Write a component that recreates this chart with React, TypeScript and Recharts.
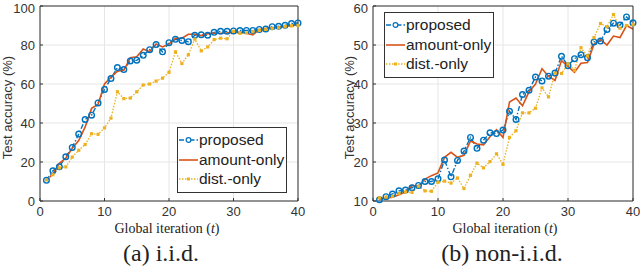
import React from 'react';
import { LineChart, Line, XAxis, YAxis, CartesianGrid, Legend } from 'recharts';

// global iterations on the x axis
const iterations = [
  1, 2, 3, 4, 5, 6, 7, 8, 9, 10, 11, 12, 13, 14, 15, 16, 17, 18, 19, 20,
  21, 22, 23, 24, 25, 26, 27, 28, 29, 30, 31, 32, 33, 34, 35, 36, 37, 38, 39, 40
];

// (a) i.i.d.
const iidProposed = [
  10.6, 15.5, 17.6, 22.7, 27.5, 34.3, 41.8, 44, 50.3, 57.2,
  62.8, 68.4, 67.4, 71.8, 72.2, 74.7, 77.6, 80.2, 76.5, 81.2,
  82.9, 82.3, 81.7, 85, 85.2, 85, 86.5, 87, 87, 87.2,
  87.4, 87.5, 87.5, 88, 88.2, 89.4, 89.6, 90.1, 91, 91.3
];
const iidAmountOnly = [
  10.5, 14, 19.3, 22, 27, 31, 38, 47.5, 49.5, 60,
  63.5, 66.5, 67, 73.5, 74, 78, 76.5, 80.5, 79, 80.5,
  83.5, 83.5, 85.5, 85.5, 84.8, 85.8, 86, 86, 86.2, 86.5,
  86.5, 86, 85.2, 88, 88.5, 88.8, 89.2, 89.6, 90, 90.5
];
const iidDistOnly = [
  10.8, 13.5, 17, 17.5, 22.5, 26, 29, 34.5, 34.2, 37.5,
  42.5, 56, 52.5, 52.8, 56, 59.5, 60, 61.5, 63, 66,
  76.5, 70.5, 75, 83, 77, 79, 82.8, 83.5, 83.2, 87,
  86, 86.2, 86.8, 87.5, 88, 88.5, 88.8, 89.5, 89.8, 90
];

// (b) non-i.i.d.
const nonIidProposed = [
  10.3, 11.1, 11.8, 12.6, 12.8, 13.4, 14, 15, 15, 15.7,
  20.5, 16.2, 20.4, 22.8, 26.3, 23.5, 25.6, 27.5, 27.3, 28.2,
  33, 30.9, 37.3, 38.4, 41.8, 40.8, 42, 42.8, 47.1, 44.7,
  46.5, 47.5, 46.7, 50.8, 51, 54, 55.6, 55.1, 57.2, 55.7
];
const nonIidAmountOnly = [
  10.5, 10.7, 11, 11.6, 12.3, 14, 13.7, 15.6, 16.5, 17.2,
  21.2, 22.5, 21.2, 21.7, 25.4, 24.6, 24.4, 26.5, 28.3, 26.3,
  35.4, 36.4, 34.4, 38, 40, 43.9, 42, 40.9, 46, 44.5,
  43, 45.3, 45.5, 50.2, 51.4, 50, 52.3, 51.9, 55, 54.1
];
const nonIidDistOnly = [
  10.8, 11, 11.2, 11.9, 12.3, 12.2, 13.8, 12.6, 12.5, 14.8,
  15.1, 14.6, 15.9, 13.2, 16.6, 19.7, 18.5, 20.1, 22.1, 19.4,
  26.3, 28, 32.6, 32.6, 33.8, 39, 36.7, 42.8, 42.7, 45.2,
  43.5, 49.3, 47.2, 51.9, 55.5, 54.7, 57.8, 54.3, 55, 55.2
];

const xTicks = [0, 10, 20, 30, 40];
const iidTicks = [0, 20, 40, 60, 80, 100];
const nonIidTicks = [10, 20, 30, 40, 50, 60];

const seriesNames = ['proposed', 'amount-only', 'dist.-only'];

const BLUE = '#0072BD';
const RED = '#D95319';
const YELLOW = '#EDB120';
const AXIS = '#333333';
const SANS = '"Liberation Sans", Arial, Helvetica, sans-serif';
const SERIF = '"Liberation Serif", "Times New Roman", serif';

const buildRows = (a: number[], b: number[], c: number[]) =>
  iterations.map((t, i) => ({ t, proposed: a[i], amount: b[i], dist: c[i] }));

const circleDot = (props: any) => (
  <circle
    key={`c-${props.index}`}
    cx={props.cx}
    cy={props.cy}
    r={2.8}
    fill="none"
    stroke={BLUE}
    strokeWidth={1.4}
  />
);

const squareDot = (props: any) => (
  <rect
    key={`s-${props.index}`}
    x={props.cx - 1.6}
    y={props.cy - 1.6}
    width={3.2}
    height={3.2}
    fill={YELLOW}
  />
);

const LegendBox = () => (
  <div
    style={{
      width: 108,
      height: 62,
      border: `1px solid ${AXIS}`,
      background: '#fff',
      fontFamily: SANS,
      fontSize: 15.5,
      color: '#222',
      paddingTop: 2
    }}
  >
    {seriesNames.map((name, i) => (
      <div key={name} style={{ display: 'flex', alignItems: 'center', height: 19.8 }}>
        <svg width={21} height={10} style={{ flex: 'none' }}>
          {i === 0 && (
            <>
              <line x1={1} y1={5} x2={20} y2={5} stroke={BLUE} strokeWidth={1.4} strokeDasharray="5 2 1.5 2" />
              <circle cx={10.5} cy={5} r={2.4} fill="#fff" stroke={BLUE} strokeWidth={1.2} />
            </>
          )}
          {i === 1 && <line x1={1} y1={5} x2={20} y2={5} stroke={RED} strokeWidth={1.6} />}
          {i === 2 && (
            <>
              <line x1={1} y1={5} x2={20} y2={5} stroke={YELLOW} strokeWidth={1.3} strokeDasharray="1.5 1.5" />
              <rect x={9} y={3.5} width={3} height={3} fill={YELLOW} />
            </>
          )}
        </svg>
        <span style={{ lineHeight: '16px' }}>{name}</span>
      </div>
    ))}
  </div>
);

interface PanelProps {
  data: any[];
  yDomain: [number, number];
  yTicks: number[];
  yAxisWidth: number;
  rightMargin: number;
  yLabelX: number;
  legendPos: { left: number; top: number };
  caption: string;
  labelShift: number;
  captionShift: number;
}

const Panel: React.FC<PanelProps> = ({
  data,
  yDomain,
  yTicks,
  yAxisWidth,
  rightMargin,
  yLabelX,
  legendPos,
  caption,
  labelShift,
  captionShift
}) => {
  const tickStyle = { fontSize: 13, fill: AXIS, fontFamily: SANS };

  const xLabel = (p: any) => {
    const vb = p.viewBox;
    const cx = vb.x + vb.width / 2;
    return (
      <g fontFamily={SERIF} fill="#222">
        <text x={cx + labelShift} y={vb.y + 32} textAnchor="middle" fontSize={14}>
          Global iteration (<tspan fontStyle="italic">t</tspan>)
        </text>
        <text x={cx + captionShift} y={vb.y + 60} textAnchor="middle" fontSize={24}>
          {caption}
        </text>
      </g>
    );
  };

  const yLabel = (p: any) => {
    const vb = p.viewBox;
    const cy = vb.y + vb.height / 2 + 4;
    return (
      <text
        x={yLabelX}
        y={cy}
        transform={`rotate(-90 ${yLabelX} ${cy})`}
        textAnchor="middle"
        dominantBaseline="central"
        fontSize={13}
        fontFamily={SANS}
        fill={AXIS}
      >
        Test accuracy (%)
      </text>
    );
  };

  return (
    <LineChart
      width={320}
      height={269}
      data={data}
      margin={{ top: 5, right: rightMargin, bottom: 0, left: 0 }}
    >
      <CartesianGrid stroke="#e6e6e6" strokeWidth={1} />
      <XAxis
        dataKey="t"
        type="number"
        domain={[0, 40]}
        ticks={xTicks}
        height={68}
        tick={tickStyle}
        tickSize={-3}
        tickMargin={9}
        stroke={AXIS}
        tickLine={{ stroke: AXIS }}
        axisLine={{ stroke: AXIS }}
        label={{ content: xLabel }}
      />
      <XAxis
        xAxisId="top"
        orientation="top"
        type="number"
        domain={[0, 40]}
        ticks={xTicks}
        height={1}
        tick={false}
        tickSize={-3}
        stroke={AXIS}
      />
      <YAxis
        type="number"
        domain={yDomain}
        ticks={yTicks}
        width={yAxisWidth}
        tick={tickStyle}
        tickSize={-3}
        tickMargin={8}
        stroke={AXIS}
        label={{ content: yLabel }}
      />
      <YAxis
        yAxisId="right"
        orientation="right"
        type="number"
        domain={yDomain}
        ticks={yTicks}
        width={1}
        tick={false}
        tickSize={-3}
        stroke={AXIS}
      />
      <Legend
        layout="horizontal"
        verticalAlign="middle"
        align="center"
        content={() => <LegendBox />}
        wrapperStyle={{ position: 'absolute', left: legendPos.left, top: legendPos.top, width: 'auto' }}
      />
      <Line
        name="proposed"
        dataKey="proposed"
        stroke={BLUE}
        strokeWidth={1.4}
        strokeDasharray="5 2 1.5 2"
        dot={circleDot}
        isAnimationActive={false}
      />
      <Line
        name="amount-only"
        dataKey="amount"
        stroke={RED}
        strokeWidth={1.6}
        dot={false}
        isAnimationActive={false}
      />
      <Line
        name="dist.-only"
        dataKey="dist"
        stroke={YELLOW}
        strokeWidth={1.3}
        strokeDasharray="1.5 1.5"
        dot={squareDot}
        isAnimationActive={false}
      />
    </LineChart>
  );
};

export default function App() {
  const iidRows = buildRows(iidProposed, iidAmountOnly, iidDistOnly);
  const nonIidRows = buildRows(nonIidProposed, nonIidAmountOnly, nonIidDistOnly);
  return (
    <div style={{ position: 'absolute', left: 0, top: 0, width: 640, height: 269, background: '#fff' }}>
      <div style={{ position: 'absolute', left: 0, top: 0 }}>
        <Panel
          data={iidRows}
          yDomain={[0, 100]}
          yTicks={iidTicks}
          yAxisWidth={40}
          rightMargin={21}
          yLabelX={7.5}
          legendPos={{ left: 177, top: 127 }}
          caption="(a) i.i.d."
          labelShift={-2}
          captionShift={-8}
        />
      </div>
      <div style={{ position: 'absolute', left: 320, top: 0 }}>
        <Panel
          data={nonIidRows}
          yDomain={[10, 60]}
          yTicks={nonIidTicks}
          yAxisWidth={53}
          rightMargin={6}
          yLabelX={29.5}
          legendPos={{ left: 64, top: 12 }}
          caption="(b) non-i.i.d."
          labelShift={2}
          captionShift={-1}
        />
      </div>
    </div>
  );
}
